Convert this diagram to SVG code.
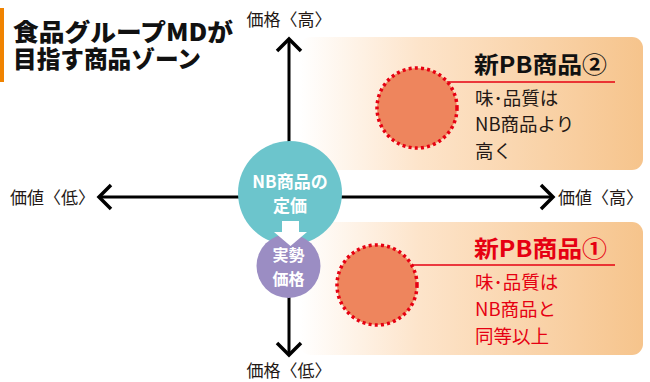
<svg xmlns="http://www.w3.org/2000/svg" width="650" height="382" viewBox="0 0 650 382">
<defs>
<linearGradient id="pg" x1="0" y1="0" x2="1" y2="0">
<stop offset="0" stop-color="#ffffff"/>
<stop offset="0.35" stop-color="#fde4ca"/>
<stop offset="1" stop-color="#f6c48c"/>
</linearGradient>
<style>
text{font-family:"Noto Sans CJK JP","Noto Sans",sans-serif;}
.ax{font-size:17px;fill:#231815;}
.ttl{font-size:24px;font-weight:900;fill:#111;}
.ph{font-size:23px;font-weight:700;}
.pb{font-size:18.5px;}
.wt{fill:#fff;font-weight:700;text-anchor:middle;}
.axis{stroke:#000;stroke-width:3;fill:none;}
.head{stroke:#000;stroke-width:3.5;fill:none;stroke-linecap:butt;stroke-linejoin:miter;}
.dot{fill:#ee855d;stroke:#e60012;stroke-width:3.5;stroke-dasharray:3 3.2;}
</style>
</defs>
<g id="title">
<rect x="0" y="8" width="4" height="74" fill="#f08300"/>
<text class="ttl" x="13" y="41" textLength="220" lengthAdjust="spacingAndGlyphs">食品グループMDが</text>
<text class="ttl" x="13" y="68" textLength="188" lengthAdjust="spacingAndGlyphs">目指す商品ゾーン</text>
</g>
<g id="zone2">
<rect x="300" y="37" width="343" height="133" rx="11" fill="url(#pg)"/>
<line x1="447" y1="82" x2="615" y2="82" stroke="#e60012" stroke-width="1.3"/>
<circle class="dot" cx="417" cy="108" r="40"/>
<text class="ph" x="474" y="73" fill="#111" textLength="133" lengthAdjust="spacingAndGlyphs">新PB商品②</text>
<text class="pb" x="475" y="105" fill="#231815">味･品質は</text>
<text class="pb" x="475" y="131" fill="#231815">NB商品より</text>
<text class="pb" x="475" y="158" fill="#231815">高く</text>
</g>
<g id="zone1">
<rect x="300" y="222" width="343" height="133" rx="11" fill="url(#pg)"/>
<line x1="413" y1="265" x2="615" y2="265" stroke="#e60012" stroke-width="1.3"/>
<circle class="dot" cx="377" cy="285" r="40"/>
<text class="ph" x="474" y="257" fill="#e60012" font-weight="900" textLength="133" lengthAdjust="spacingAndGlyphs">新PB商品①</text>
<text class="pb" x="475" y="289" fill="#e60012">味･品質は</text>
<text class="pb" x="475" y="316" fill="#e60012">NB商品と</text>
<text class="pb" x="475" y="343" fill="#e60012">同等以上</text>
</g>
<g id="connectors">
<line class="axis" x1="289" y1="40" x2="289" y2="354"/>
<line class="axis" x1="101" y1="197" x2="552" y2="197"/>
<polyline class="head" points="277,51 289,39 301,51"/>
<polyline class="head" points="277,343 289,355 301,343"/>
<polyline class="head" points="111,185 99,197 111,209"/>
<polyline class="head" points="541,185 553,197 541,209"/>
</g>
<g id="labels">
<text class="ax" x="289" y="26" text-anchor="middle">価格〈高〉</text>
<text class="ax" x="289" y="377" text-anchor="middle">価格〈低〉</text>
<text class="ax" x="10" y="204">価値〈低〉</text>
<text class="ax" x="558" y="204">価値〈高〉</text>
</g>
<g id="nb">
<circle cx="290" cy="193" r="52" fill="#6cc5cc"/>
<text class="wt" x="290" y="188" font-size="17">NB商品の</text>
<text class="wt" x="290" y="212" font-size="17">定価</text>
</g>
<g id="actual">
<circle cx="288.5" cy="266" r="32" fill="#9b8dc3"/>
<text class="wt" x="288.5" y="261" font-size="16">実勢</text>
<text class="wt" x="288.5" y="285" font-size="16">価格</text>
</g>
<g id="down">
<polygon points="282,221 299,221 299,232 307,232 290.5,246 274,232 282,232" fill="#fff"/>
</g>
</svg>
